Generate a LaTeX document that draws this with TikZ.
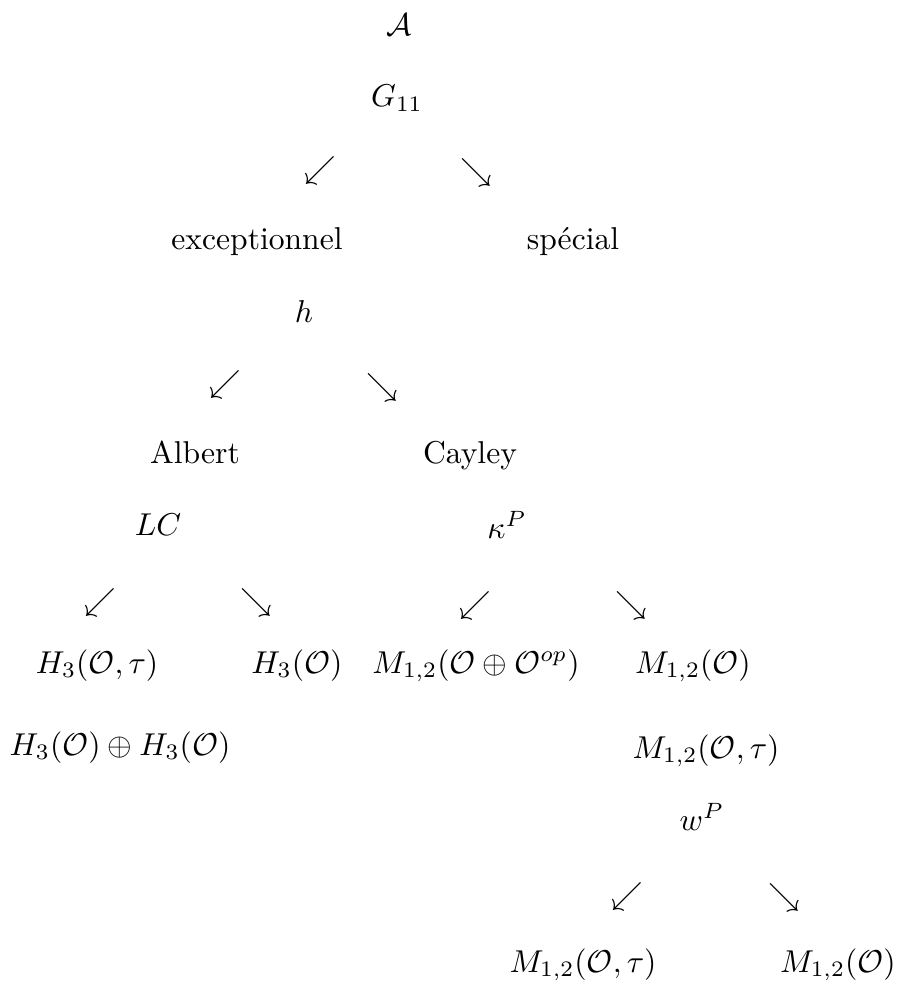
\documentclass[tikz,border=0pt]{standalone}
\usepackage{amsmath}
\begin{document}
\tikzset{
  lbl/.style={inner sep=0pt, anchor=base},
  arr/.style={inner sep=0pt, anchor=center}
}
\begin{tikzpicture}[x=0.3165pt,y=-0.3165pt]
\useasboundingbox (0,0) rectangle (899,990);
% level 0
\node[lbl] (a) at (399,36) {$\mathcal{A}$};
\node[lbl] (g) at (397,107) {$G_{11}$};
\node[arr] (sw1) at (320,171) {$\swarrow$};
\node[arr] (se1) at (476,173) {$\searrow$};
% level 1
\node[lbl] (exc) at (257,250) {exceptionnel};
\node[lbl] (spe) at (573,250) {spécial};
\node[lbl] (h) at (304,322) {$h$};
\node[arr] (sw2) at (225,385) {$\swarrow$};
\node[arr] (se2) at (382,388) {$\searrow$};
% level 2
\node[lbl] (alb) at (195,463) {Albert};
\node[lbl] (cay) at (470,463) {Cayley};
\node[lbl] (lc) at (158,535) {$LC$};
\node[lbl] (kap) at (507,538) {$\kappa^P$};
\node[arr] (sw3a) at (100,603) {$\swarrow$};
\node[arr] (se3a) at (256,603) {$\searrow$};
\node[arr] (sw3b) at (475,606) {$\swarrow$};
\node[arr] (se3b) at (631,606) {$\searrow$};
% level 3
\node[lbl] (h3t) at (97,673) {$H_3(\mathcal{O},\tau)$};
\node[lbl] (h3) at (297,673) {$H_3(\mathcal{O})$};
\node[lbl] (m12op) at (476,673) {$M_{1,2}(\mathcal{O}\oplus\mathcal{O}^{op})$};
\node[lbl] (m12) at (693,673) {$M_{1,2}(\mathcal{O})$};
\node[lbl] (h3s) at (120,755) {$H_3(\mathcal{O})\oplus H_3(\mathcal{O})$};
\node[lbl] (m12t) at (706,758) {$M_{1,2}(\mathcal{O},\tau)$};
\node[lbl] (wp) at (702,830) {$w^P$};
\node[arr] (sw4) at (627,897) {$\swarrow$};
\node[arr] (se4) at (784,898) {$\searrow$};
% level 4
\node[lbl] (m12t2) at (583,972) {$M_{1,2}(\mathcal{O},\tau)$};
\node[lbl] (m12b) at (838,972) {$M_{1,2}(\mathcal{O})$};
\end{tikzpicture}
\end{document}
